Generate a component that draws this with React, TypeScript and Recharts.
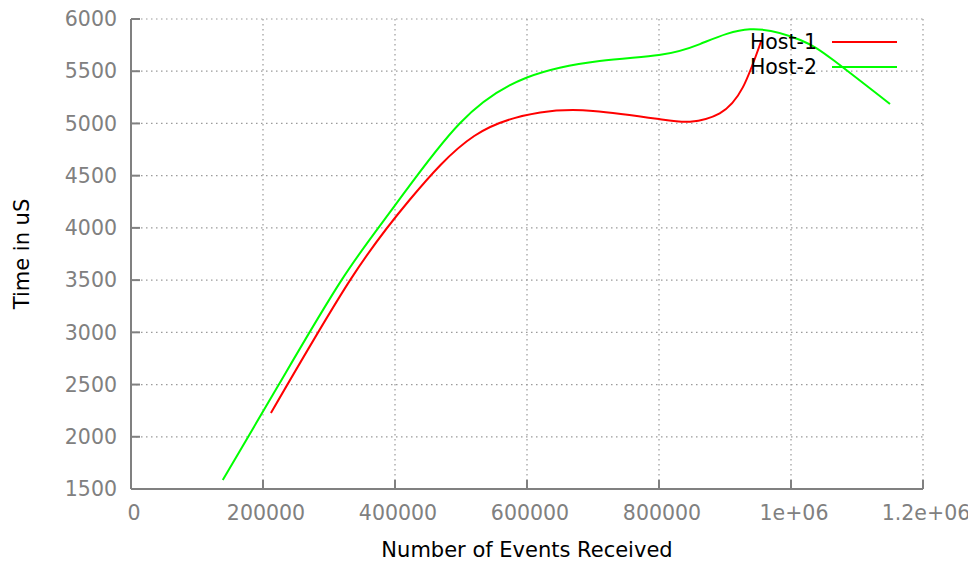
import React from 'react';
import { LineChart, Line, XAxis, YAxis, CartesianGrid, Legend, Label } from 'recharts';

const FONT = '"DejaVu Sans", sans-serif';

const host1X = [212000, 332000, 422000, 520000, 620000, 700000, 800000, 847000, 892000, 927000, 955000];
const host1Y = [2228, 3500, 4267, 4880, 5105, 5120, 5042, 5017, 5097, 5345, 5792];

const host2X = [139000, 224000, 319000, 400000, 498000, 600000, 710000, 800000, 862000, 938000, 1014000, 1064000, 1150000];
const host2Y = [1586, 2500, 3500, 4215, 5000, 5440, 5598, 5655, 5760, 5901, 5799, 5607, 5186];

const xTicks = [0, 200000, 400000, 600000, 800000, 1000000, 1200000];
const xTickLabels = ['0', '200000', '400000', '600000', '800000', '1e+06', '1.2e+06'];
const yTicks = [1500, 2000, 2500, 3000, 3500, 4000, 4500, 5000, 5500, 6000];

const seriesNames = ['Host-1', 'Host-2'];
const seriesColors = ['#ff0000', '#00ff00'];

const host1 = host1X.map((x, i) => ({ x, y: host1Y[i] }));
const host2 = host2X.map((x, i) => ({ x, y: host2Y[i] }));

const renderLegend = (props: any) => {
  const { payload } = props;
  return (
    <div style={{ fontFamily: FONT, fontSize: 20.5 }}>
      {(payload || []).map((p: any) => (
        <div key={p.value} style={{ display: 'flex', alignItems: 'center', height: 25 }}>
          <span style={{ width: 117, textAlign: 'right', color: '#000', lineHeight: '25px', whiteSpace: 'nowrap' }}>{p.value}</span>
          <svg width={65} height={6} style={{ marginLeft: 15, display: 'block' }}>
            <line x1={0} y1={3} x2={65} y2={3} stroke={p.color} strokeWidth={2} />
          </svg>
        </div>
      ))}
    </div>
  );
};

export default function App() {
  return (
    <div style={{ position: 'absolute', left: 0, top: 0 }}>
      <LineChart width={968} height={562} margin={{ top: 19, right: 45, bottom: 0, left: 0 }}>
        <CartesianGrid stroke="#9a9a9a" strokeWidth={1.2} strokeDasharray="1.5 3.5" />
        <XAxis
          dataKey="x"
          type="number"
          domain={[0, 1200000]}
          ticks={xTicks}
          tickFormatter={(v: number) => xTickLabels[xTicks.indexOf(v)]}
          height={73}
          allowDataOverflow
          interval={0}
          stroke="#808080"
          strokeWidth={2}
          tickSize={-9}
          tickMargin={25}
          tick={{ fill: '#808080', fontSize: 20.5, fontFamily: FONT, dx: 3 }}
        >
          <Label
            content={() => (
              <text x={527} y={557} textAnchor="middle" fontFamily={FONT} fontSize={21} fill="#000">
                Number of Events Received
              </text>
            )}
          />
        </XAxis>
        <YAxis
          type="number"
          domain={[1500, 6000]}
          ticks={yTicks}
          width={131}
          allowDataOverflow
          interval={0}
          stroke="#808080"
          strokeWidth={2}
          tickSize={-9}
          tickMargin={23}
          tick={{ fill: '#808080', fontSize: 20.5, fontFamily: FONT }}
        >
          <Label
            content={() => (
              <text x={22} y={254} transform="rotate(-90 22 254)" textAnchor="middle" dominantBaseline="central" fontFamily={FONT} fontSize={21} fill="#000">
                Time in uS
              </text>
            )}
          />
        </YAxis>
        <Legend
          layout="horizontal"
          align="center"
          verticalAlign="middle"
          content={renderLegend}
          wrapperStyle={{ left: 700, top: 29.5, width: 200 }}
        />
        <Line data={host1} dataKey="y" name={seriesNames[0]} stroke={seriesColors[0]} strokeWidth={2} dot={false} type="natural" isAnimationActive={false} />
        <Line data={host2} dataKey="y" name={seriesNames[1]} stroke={seriesColors[1]} strokeWidth={2} dot={false} type="natural" isAnimationActive={false} />
      </LineChart>
    </div>
  );
}
